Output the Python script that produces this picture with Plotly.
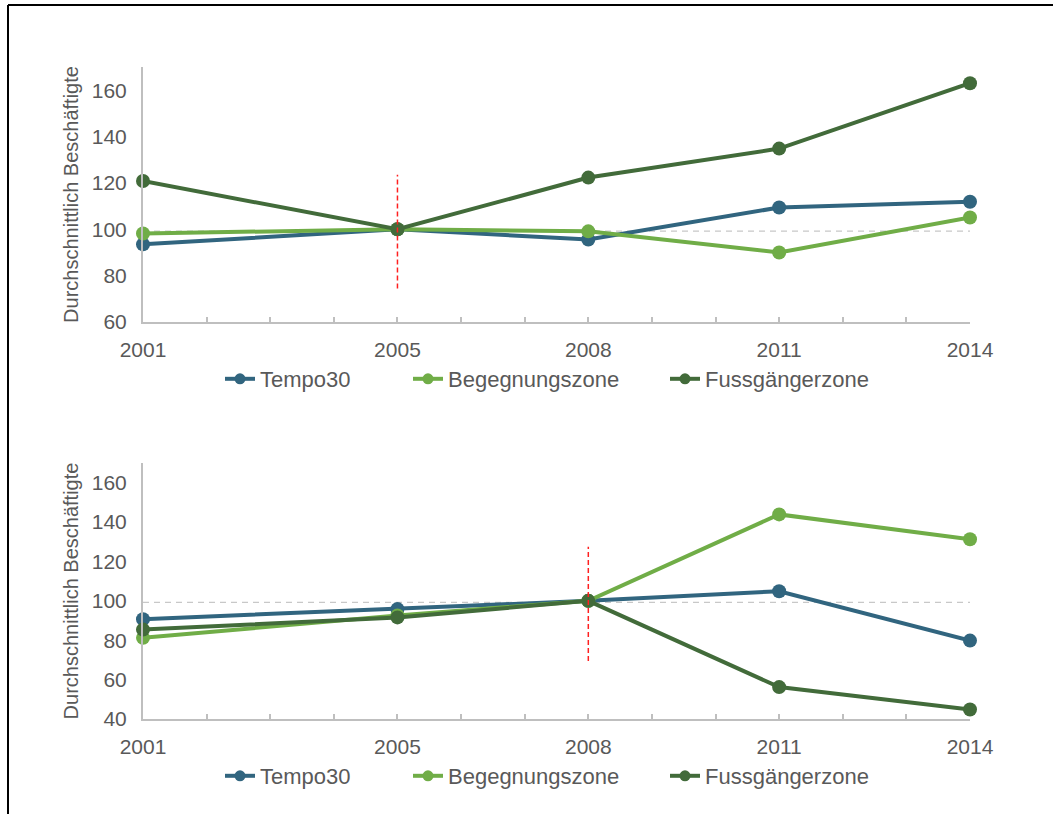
import plotly.graph_objects as go

years = [2001, 2005, 2008, 2011, 2014]
tick_years = [2001, 2005, 2008, 2011, 2014]
series_names = ["Tempo30", "Begegnungszone", "Fussgängerzone"]
colors = ["#31657F", "#70AD47", "#426B3A"]

# Top chart (reference year 2005)
top_tempo30 = [93.5, 100, 95.6, 109.4, 111.9]
top_begegnung = [98.2, 100, 99.1, 90.0, 105.1]
top_fussgaenger = [120.8, 100, 122.3, 134.8, 163.0]

# Bottom chart (reference year 2008)
bot_tempo30 = [90.7, 95.8, 100, 104.9, 79.8]
bot_begegnung = [81.2, 92.6, 100, 143.9, 131.3]
bot_fussgaenger = [85.4, 91.6, 100, 56.2, 44.8]

top_yticks = [60, 80, 100, 120, 140, 160]
bot_yticks = [40, 60, 80, 100, 120, 140, 160]
top_yrange = [60, 170]
bot_yrange = [40, 170]

ref_level = 99.2
top_event_year = 2005
top_event_span = [74.5, 123.5]
bot_event_year = 2008
bot_event_span = [69.5, 127.5]

TEXT = "#595959"
AXIS = "#BFBFBF"
FONT = "Liberation Sans, Arial, sans-serif"
W, H = 1053, 814

# legend entry text-start positions (px) for each series
legend_text_px = [262, 450, 707]
legend_y_px = [379, 776]
TEXT_OFF = 42

fig = go.Figure()

def add_panel(panel, xa, ya, vals_list, event_year, event_span):
    fig.add_trace(go.Scatter(
        x=[years[0], years[-1]], y=[ref_level, ref_level], mode="lines",
        line=dict(color="#C8C8C8", width=1.2, dash="6px,5px"),
        xaxis=xa, yaxis=ya, showlegend=False, hoverinfo="skip"))
    for i, (name, vals, col) in enumerate(zip(series_names, vals_list, colors)):
        fig.add_trace(go.Scatter(
            x=years, y=vals, mode="lines+markers", name=name,
            line=dict(color=col, width=4), marker=dict(color=col, size=14),
            xaxis=xa, yaxis=ya, showlegend=False, cliponaxis=False))
    fig.add_trace(go.Scatter(
        x=[event_year, event_year], y=event_span, mode="lines",
        line=dict(color="#FF2020", width=1.5, dash="5px,3px"),
        xaxis=xa, yaxis=ya, showlegend=False, hoverinfo="skip", cliponaxis=False))
    # legend entries (one legend per entry for exact placement)
    for i, (name, col) in enumerate(zip(series_names, colors)):
        lg = "legend" if panel * 3 + i == 0 else f"legend{panel * 3 + i + 1}"
        fig.add_trace(go.Scatter(
            x=[None], y=[None], mode="lines+markers", name=name,
            line=dict(color=col, width=4), marker=dict(color=col, size=11),
            xaxis=xa, yaxis=ya, legend=lg, showlegend=True))

add_panel(0, "x", "y", [top_tempo30, top_begegnung, top_fussgaenger],
          top_event_year, top_event_span)
add_panel(1, "x2", "y2", [bot_tempo30, bot_begegnung, bot_fussgaenger],
          bot_event_year, bot_event_span)

xdom = [143 / W, 970 / W]
top_dom = [1 - 322 / H, 1 - 67 / H]
bot_dom = [1 - 719 / H, 1 - 463 / H]

def xaxis_cfg(anchor):
    return dict(
        domain=xdom, anchor=anchor, range=[years[0], years[-1]], automargin=False,
        tickvals=tick_years, ticks="inside", ticklen=5, tickwidth=1.5, tickcolor=AXIS,
        minor=dict(dtick=1, tick0=2001, ticks="inside", ticklen=5, tickwidth=1.5, tickcolor=AXIS),
        showline=True, linecolor=AXIS, linewidth=2, showgrid=False, zeroline=False,
        tickfont=dict(family=FONT, size=21, color=TEXT), ticklabelstandoff=8)

def yaxis_cfg(anchor, dom, rng, tv):
    return dict(
        domain=dom, anchor=anchor, range=rng, tickvals=tv, ticks="", automargin=False,
        showline=True, linecolor=AXIS, linewidth=2, showgrid=False, zeroline=False,
        tickfont=dict(family=FONT, size=21, color=TEXT), ticklabelstandoff=10,
        title=dict(text="Durchschnittlich Beschäftigte", standoff=8,
                   font=dict(family=FONT, size=20, color=TEXT)))

legends = {}
for p in range(2):
    for i in range(3):
        k = p * 3 + i
        key = "legend" if k == 0 else f"legend{k + 1}"
        legends[key] = dict(
            orientation="h", xanchor="left", x=(legend_text_px[i] - TEXT_OFF) / W,
            yanchor="middle", y=1 - legend_y_px[p] / H,
            font=dict(family=FONT, size=22, color=TEXT),
            bgcolor="rgba(0,0,0,0)", itemwidth=30)

fig.update_layout(
    template="none",
    width=W, height=H, margin=dict(l=0, r=0, t=0, b=0, autoexpand=False),
    paper_bgcolor="white", plot_bgcolor="white",
    xaxis=xaxis_cfg("y"), yaxis=yaxis_cfg("x", top_dom, top_yrange, top_yticks),
    xaxis2=xaxis_cfg("y2"), yaxis2=yaxis_cfg("x2", bot_dom, bot_yrange, bot_yticks),
    showlegend=True,
    shapes=[
        dict(type="line", xref="paper", yref="paper", x0=8 / W, x1=1, y0=1 - 5 / H, y1=1 - 5 / H,
             line=dict(color="black", width=2)),
        dict(type="line", xref="paper", yref="paper", x0=8 / W, x1=8 / W, y0=0, y1=1 - 5 / H,
             line=dict(color="black", width=2)),
    ],
    **legends,
)

fig.write_html("out.html", config={"displayModeBar": False},
               post_script="document.body.style.margin='0';")
